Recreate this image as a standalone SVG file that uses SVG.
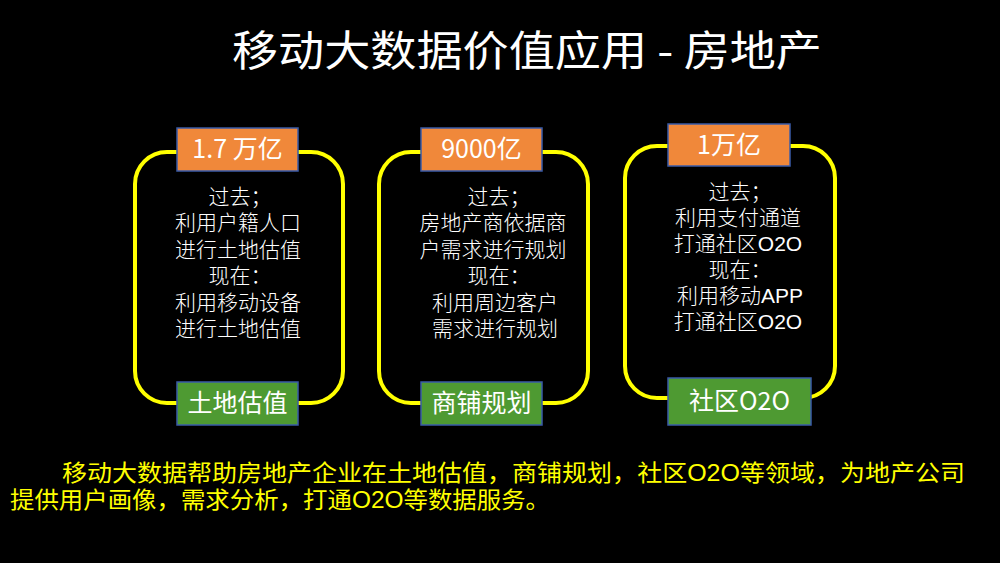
<svg xmlns="http://www.w3.org/2000/svg" width="1000" height="563" viewBox="0 0 1000 563">
<style>
.bg{fill:#000}
.frame{fill:none;stroke:#FFFF00;stroke-width:4}
.top{fill:#F0883A;stroke:#3A5BA8;stroke-width:1.5}
.bot{fill:#4E9A32;stroke:#3A5BA8;stroke-width:1.5}
.lbl{fill:#fff;font-family:"Noto Sans CJK SC","Liberation Sans",sans-serif;font-size:25px;text-anchor:middle}
.body{fill:#fff;font-family:"Liberation Sans","Noto Sans CJK SC",sans-serif;font-size:21px;text-anchor:middle;font-weight:300}
.title{fill:#fff;font-family:"Noto Sans CJK SC","Liberation Sans",sans-serif;font-size:42px}
.note{fill:#FFFF00;font-family:"Liberation Sans","Noto Sans CJK SC",sans-serif;font-size:23px}
</style>
<rect class="bg" x="0" y="0" width="1000" height="563"/>
<text class="title" x="232" y="66" textLength="590" lengthAdjust="spacingAndGlyphs">移动大数据价值应用 - 房地产</text>

<g id="connectors"></g>

<g id="card1">
<rect class="frame" x="135" y="152" width="208" height="251" rx="32"/>
<rect class="top" x="177" y="128" width="121" height="43"/>
<text class="lbl" x="237.5" y="158">1.7 万亿</text>
<text class="body"><tspan x="240" y="204">过去；</tspan><tspan x="238" dy="26.4">利用户籍人口</tspan><tspan x="238" dy="26.4">进行土地估值</tspan><tspan x="240" dy="26.4">现在：</tspan><tspan x="238" dy="26.4">利用移动设备</tspan><tspan x="238" dy="26.4">进行土地估值</tspan></text>
<rect class="bot" x="177" y="382" width="121" height="43"/>
<text class="lbl" x="237.5" y="412">土地估值</text>
</g>

<g id="card2">
<rect class="frame" x="379" y="152" width="209" height="251" rx="32"/>
<rect class="top" x="421" y="128" width="121" height="43"/>
<text class="lbl" x="481.5" y="158">9000亿</text>
<text class="body"><tspan x="499" y="204">过去；</tspan><tspan x="493" dy="26.4">房地产商依据商</tspan><tspan x="493" dy="26.4">户需求进行规划</tspan><tspan x="499" dy="26.4">现在：</tspan><tspan x="495" dy="26.4">利用周边客户</tspan><tspan x="495" dy="26.4">需求进行规划</tspan></text>
<rect class="bot" x="421" y="382" width="121" height="43"/>
<text class="lbl" x="481.5" y="412">商铺规划</text>
</g>

<g id="card3">
<rect class="frame" x="625" y="146" width="210" height="252" rx="32"/>
<rect class="top" x="668" y="124" width="122" height="42"/>
<text class="lbl" x="729" y="154">1万亿</text>
<text class="body"><tspan x="740" y="199">过去；</tspan><tspan x="738" dy="26">利用支付通道</tspan><tspan x="738" dy="26">打通社区O2O</tspan><tspan x="740" dy="26">现在：</tspan><tspan x="740" dy="26">利用移动APP</tspan><tspan x="738" dy="26">打通社区O2O</tspan></text>
<rect class="bot" x="668" y="378" width="143" height="47"/>
<text class="lbl" x="739.5" y="410">社区O2O</text>
</g>

<text class="note"><tspan x="62" y="481" textLength="903" lengthAdjust="spacingAndGlyphs">移动大数据帮助房地产企业在土地估值，商铺规划，社区O2O等领域，为地产公司</tspan><tspan x="10" y="508" textLength="540" lengthAdjust="spacingAndGlyphs">提供用户画像，需求分析，打通O2O等数据服务。</tspan></text>
</svg>
